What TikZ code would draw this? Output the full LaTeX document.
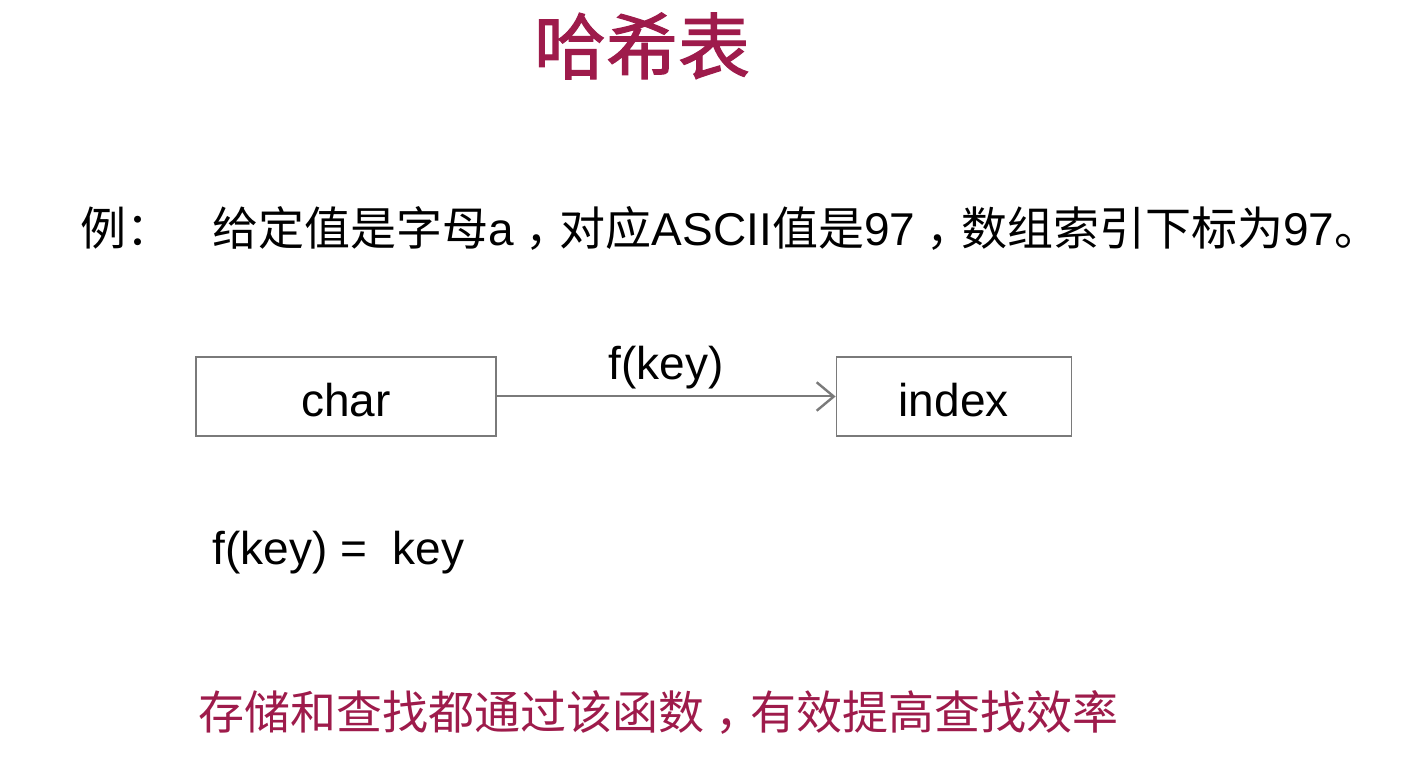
\documentclass[tikz,border=0pt]{standalone}
\usepackage{fontspec}
\setmainfont{Liberation Sans}
\newfontfamily\cjk{Noto Sans CJK SC}
\newfontfamily\cjkhead{Noto Sans CJK SC}[FakeBold=1.6]
\usetikzlibrary{positioning,arrows.meta}
\definecolor{hashred}{HTML}{9E1B4B}
\definecolor{edgegray}{HTML}{7A7A7A}
\newcommand{\zh}[1]{{\cjk #1}}
\newcommand{\zcomma}{\hspace{0.25em}\zh{，}\hspace{-0.25em}}

\begin{document}
\begin{tikzpicture}[x=0.5pt, y=0.5pt,
  txt/.style={inner sep=0pt, anchor=west, font=\fontsize{23}{28}\selectfont},
  box/.style={draw=edgegray, line width=0.6pt, minimum width=#1, minimum height=39.5pt, inner sep=0pt, text height=20.5pt, font=\fontsize{23}{28}\selectfont},
  box/.default=150pt, >={Straight Barb[length=3mm, width=5mm, line width=1.2pt]}]
\useasboundingbox[fill=white] (0,0) rectangle (1406,758);
\node[font=\cjkhead\fontsize{36}{40}\selectfont, text=hashred] (title) at (642,712) {哈希表};
% example sentence
\node[txt] (ex) at (80,530) {\zh{例：}};
\node[txt] (given) at (212,530) {\zh{给定值是字母}a\zcomma\zh{对应}ASCII\zh{值是}97\zcomma\zh{数组索引下标为}97\zh{。}};
% mapping
\node[box] (chr) at (346,361.5) {char};
\node[box=117.5pt, right=169.5pt of chr] (idx) {index};
\draw[->, edgegray, line width=1pt] (chr) -- node[above=3pt, inner sep=0pt, text=black, font=\fontsize{23}{28}\selectfont] (fkey) {f(key)} (idx);
\node[txt] (rule) at (212,205) {f(key) =\ \ key};
\node[txt, text=hashred] (note) at (198,46) {\zh{存储和查找都通过该函数}\zcomma\zh{有效提高查找效率}};
\end{tikzpicture}
\end{document}
